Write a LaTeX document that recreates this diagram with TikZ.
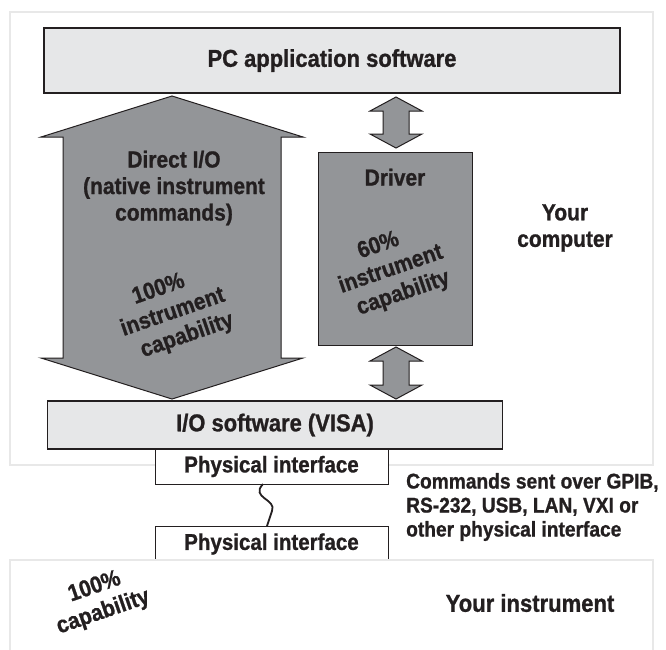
\documentclass[tikz,border=0pt]{standalone}
\usepackage{fontspec}
\newfontfamily\condbold{Liberation Sans Bold}[FakeStretch=0.9, FakeBold=1]
\usepackage{xcolor}
\usetikzlibrary{positioning, calc}
\definecolor{boxgray}{HTML}{E6E7E8}
\definecolor{arrowgray}{HTML}{939598}
\definecolor{framegray}{HTML}{E8E8E8}
\definecolor{inkgray}{HTML}{231F20}
\tikzstyle{softbox} = [rectangle, draw=inkgray, line width=1.2pt, fill=boxgray, text=inkgray, font=\condbold\fontsize{24.4}{28}\selectfont]
\tikzstyle{ifacebox} = [rectangle, draw=inkgray, line width=1pt, fill=white, minimum width=233pt, text=inkgray, font=\condbold\fontsize{22.8}{26}\selectfont]
\tikzstyle{drvbox} = [rectangle, draw=inkgray, line width=1pt, fill=arrowgray, minimum width=154pt, minimum height=193pt]
\tikzstyle{blockarrow} = [draw=inkgray, line width=1pt, fill=arrowgray]
\tikzstyle{frame} = [draw=framegray, line width=2pt]
\tikzstyle{caption} = [align=center, text=inkgray, inner sep=0pt, font=\condbold\fontsize{23.3}{26.5}\selectfont]
\tikzstyle{slant} = [caption, rotate=19]
\tikzstyle{wire} = [draw=inkgray, line width=1.8pt]
% vertical double block arrow: top tip, bottom tip, shaft half, head half, head length
\newcommand{\fatarrow}[5]{%
  \draw[blockarrow] let \p1=(#1), \p2=(#2) in
    (\p1) -- (\x1+#4pt,\y1-#5pt) -- (\x1+#3pt,\y1-#5pt) -- (\x1+#3pt,\y2+#5pt)
    -- (\x1+#4pt,\y2+#5pt) -- (\p2) -- (\x1-#4pt,\y2+#5pt) -- (\x1-#3pt,\y2+#5pt)
    -- (\x1-#3pt,\y1-#5pt) -- (\x1-#4pt,\y1-#5pt) -- cycle;}

\begin{document}
\begin{tikzpicture}[x=1pt, y=-1pt]
    \useasboundingbox (0,0) rectangle (666,649);
    % computer frame
    \draw[frame] (10,12) rectangle (653,465);
    \node(app)[softbox, minimum width=576pt, minimum height=65pt] at (332,60.5) {PC application software};
    \node(driver)[drvbox] at (395,248.5) {};
    \node(io)[softbox, minimum width=455pt, minimum height=48pt] at (275,425) {I/O software (VISA)};
    % block arrows
    \coordinate(dtop) at (172,96);
    \coordinate(dbot) at (172,399);
    \fatarrow{dtop}{dbot}{109}{131}{41}
    \coordinate(utop) at (396,97);
    \coordinate(ubot) at (396,148);
    \fatarrow{utop}{ubot}{13}{26}{14}
    \coordinate(ltop) at (396,347);
    \coordinate(lbot) at (396,399);
    \fatarrow{ltop}{lbot}{13}{26}{14}
    % labels on the arrows
    \node(dio)[caption] at (174,188) {Direct I/O\\(native instrument\\commands)};
    \node(dcap)[slant] at (173,313) {\hspace*{-12pt}100\%\\instrument\\\hspace*{12pt}capability};
    \node(drvname)[caption, below=17pt of driver.north] {Driver};
    \node(drvcap)[slant] at (391,270) {\hspace*{-8pt}60\%\\instrument\\\hspace*{8pt}capability};
    \node(mycomp)[caption] at (565,228) {Your\\computer};
    % interfaces
    \node(phys1)[ifacebox, minimum height=35pt] at (271.5,466.5) {Physical interface};
    \node(phys2)[ifacebox, minimum height=36pt] at (271.5,544) {Physical interface};
    \coordinate(w0) at (263,484);
    \coordinate(w1) at (272,511);
    \coordinate(w2) at (267,526);
    \draw[wire] (w0) .. controls (250,498) and (277,499) .. (w1) -- (w2);
    \node(cmds)[caption, align=left, anchor=west, font=\condbold\fontsize{21.3}{24}\selectfont] at (406,507) {Commands sent over GPIB,\\RS-232, USB, LAN, VXI or\\other physical interface};
    % instrument frame
    \path[frame, fill=white] (10,660) |- (653,560) -- (653,660);
    \node(icap)[slant] at (99,600) {100\%\\capability};
    \node(myinst)[caption, font=\condbold\fontsize{24.5}{28}\selectfont] at (530,603) {Your instrument};
\end{tikzpicture}
\end{document}
